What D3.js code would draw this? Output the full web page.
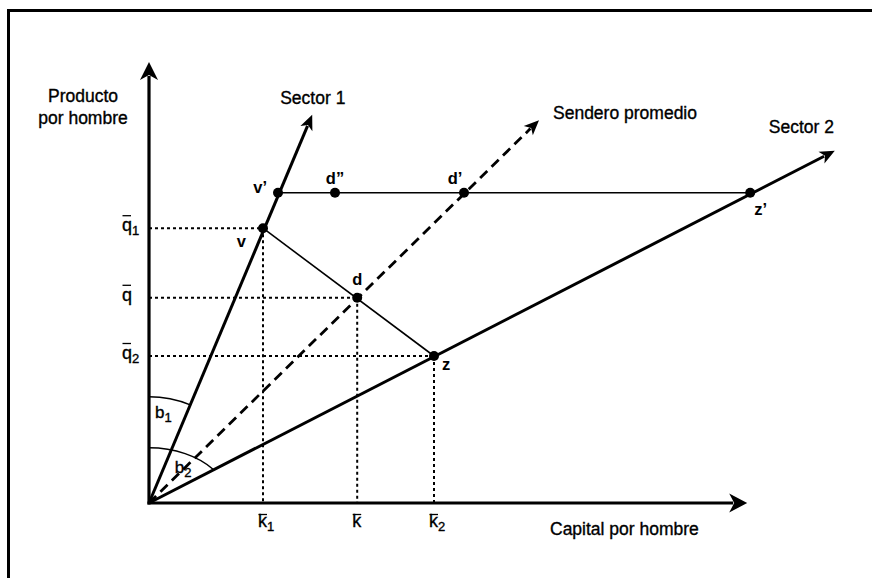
<!DOCTYPE html>
<html><head><meta charset="utf-8">
<script src="https://cdn.jsdelivr.net/npm/d3@7"></script>
<style>html,body{margin:0;padding:0;background:#fff}svg{display:block}</style>
</head><body>
<script>
// ---- data (k = capital por hombre, q = producto por hombre) ----
const pointNames = ["v’", "v", "d”", "d’", "d", "z", "z’"];
const pointK = [2.15, 1.90, 3.10, 5.25, 3.47, 4.75, 10.02];
const pointQ = [5.17, 4.58, 5.17, 5.17, 3.42, 2.45, 5.17];
const rayNames = ["Sector 1", "Sendero promedio", "Sector 2"];
const rayTipK = [2.72, 6.50, 11.43];
const rayTipQ = [6.47, 6.38, 5.87];
const rayDashed = [false, true, false];
const qGuideValues = [4.58, 3.42, 2.45];
const qGuideSubs = ["1", "", "2"];
const kGuideValues = [1.90, 3.47, 4.75];
const kGuideSubs = ["1", "", "2"];
const axisMaxK = 9.97, axisMaxQ = 7.35;
const angleSubs = ["1", "2"];
const angleRadiusK = [1.80, 1.35];   // horizontal radius of angle arcs
const angleRadiusQ = [1.77, 0.92];   // vertical radius of angle arcs
const angleRay = [0, 2];
const axisTitleY = ["Producto", "por hombre"];
const axisTitleX = "Capital por hombre";

// ---- layout ----
const W = 872, H = 578;
const x = d3.scaleLinear().domain([0, 10]).range([149, 749]);
const y = d3.scaleLinear().domain([0, 10]).range([503, -97]);
const FONT = "'Liberation Sans', Arial, Helvetica, sans-serif";

const svg = d3.select("body").append("svg").attr("width", W).attr("height", H);

// frame (top & left edges visible)
svg.append("path").attr("d", `M8.5,${H} L8.5,10.5 L${W},10.5`)
  .attr("fill", "none").attr("stroke", "#000").attr("stroke-width", 3);

function arrowHead(g, x0, y0, x1, y1, L, Wd, N) {
  const dx = x1 - x0, dy = y1 - y0, len = Math.hypot(dx, dy);
  const ux = dx / len, uy = dy / len, nx = -uy, ny = ux;
  const pts = [
    [x1, y1],
    [x1 - L * ux + Wd / 2 * nx, y1 - L * uy + Wd / 2 * ny],
    [x1 - (L - N) * ux, y1 - (L - N) * uy],
    [x1 - L * ux - Wd / 2 * nx, y1 - L * uy - Wd / 2 * ny]
  ];
  g.append("path").attr("d", "M" + pts.map(p => p.join(",")).join("L") + "Z").attr("fill", "#000");
  return [x1 - (L - N + 1) * ux, y1 - (L - N + 1) * uy];
}

const g = svg.append("g");
const ox = x(0), oy = y(0);

// dotted guides
qGuideValues.forEach((q, i) => {
  const idx = pointQ.findIndex((v, j) => v === q && [1, 4, 5].includes(j));
  g.append("line").attr("x1", ox).attr("x2", x(pointK[idx])).attr("y1", y(q)).attr("y2", y(q))
    .attr("stroke", "#000").attr("stroke-width", 2).attr("stroke-dasharray", "3,3");
});
kGuideValues.forEach((k, i) => {
  const idx = pointK.findIndex((v, j) => v === k && [1, 4, 5].includes(j));
  g.append("line").attr("x1", x(k)).attr("x2", x(k)).attr("y1", y(pointQ[idx])).attr("y2", oy)
    .attr("stroke", "#000").attr("stroke-width", 2).attr("stroke-dasharray", "3,3");
});

// thin lines v–z and v'–z'
g.append("line").attr("x1", x(pointK[1])).attr("y1", y(pointQ[1])).attr("x2", x(pointK[5])).attr("y2", y(pointQ[5]))
  .attr("stroke", "#000").attr("stroke-width", 1.6);
g.append("line").attr("x1", x(pointK[0])).attr("y1", y(pointQ[0])).attr("x2", x(pointK[6])).attr("y2", y(pointQ[6]))
  .attr("stroke", "#000").attr("stroke-width", 1.6);

// angle arcs (elliptical, centred at origin)
angleSubs.forEach((s, i) => {
  const rx = x(angleRadiusK[i]) - ox, ry = oy - y(angleRadiusQ[i]);
  const r = angleRay[i];
  const dx = x(rayTipK[r]) - ox, dy = y(rayTipQ[r]) - oy;
  const t = 1 / Math.sqrt((dx / rx) ** 2 + (dy / ry) ** 2);
  const ex = ox + t * dx, ey = oy + t * dy;
  g.append("path").attr("d", `M${ox},${oy - ry} A${rx},${ry} 0 0 1 ${ex},${ey}`)
    .attr("fill", "none").attr("stroke", "#000").attr("stroke-width", 1.5);
});

// rays
rayNames.forEach((n, i) => {
  const tx = x(rayTipK[i]), ty = y(rayTipQ[i]);
  const end = arrowHead(g, ox, oy, tx, ty, 15, 13, 4);
  g.append("line").attr("x1", ox).attr("y1", oy).attr("x2", end[0]).attr("y2", end[1])
    .attr("stroke", "#000").attr("stroke-width", rayDashed[i] ? 2.8 : 3)
    .attr("stroke-dasharray", rayDashed[i] ? "10,6" : null);
});

// axes
{
  const ex = arrowHead(g, ox, oy, x(axisMaxK), oy, 18, 19, 5);
  g.append("line").attr("x1", ox - 1.5).attr("y1", oy).attr("x2", ex[0]).attr("y2", oy)
    .attr("stroke", "#000").attr("stroke-width", 3.2);
  const ey = arrowHead(g, ox, oy, ox, y(axisMaxQ), 18, 18, 5);
  g.append("line").attr("x1", ox).attr("y1", oy + 1.5).attr("x2", ox).attr("y2", ey[1])
    .attr("stroke", "#000").attr("stroke-width", 3.2);
}

// points
pointNames.forEach((n, i) => {
  g.append("circle").attr("cx", x(pointK[i])).attr("cy", y(pointQ[i])).attr("r", 5).attr("fill", "#000");
});

// point labels
const pLab = [
  {dx: -11, dy: 0, a: "end"}, {dx: -17, dy: 19, a: "end"}, {dx: 0, dy: -9, a: "middle"},
  {dx: -9, dy: -9, a: "middle"}, {dx: 0, dy: -13, a: "middle"}, {dx: 8, dy: 14, a: "start"},
  {dx: 4, dy: 22, a: "start"}
];
pointNames.forEach((n, i) => {
  g.append("text").attr("x", x(pointK[i]) + pLab[i].dx).attr("y", y(pointQ[i]) + pLab[i].dy)
    .attr("text-anchor", pLab[i].a).attr("font-family", FONT).attr("font-weight", "bold")
    .attr("font-size", 16.5).text(n);
});

// regular text gets a hairline stroke to mimic the heavier print
const heavy = sel => sel.attr("stroke", "#000").attr("stroke-width", 0.35);

// ray labels
const rLab = [{dx: -32, dy: -11}, {dx: 14, dy: -1}, {dx: -66, dy: -18}];
rayNames.forEach((n, i) => {
  g.append("text").attr("x", x(rayTipK[i]) + rLab[i].dx).attr("y", y(rayTipQ[i]) + rLab[i].dy)
    .attr("font-family", FONT).attr("font-size", 17.5).call(heavy).text(n);
});

// math labels with bar
function barLabel(px, py, letter, sub, barDy) {
  const t = g.append("text").attr("x", px).attr("y", py).attr("font-family", FONT).attr("font-size", 18).call(heavy);
  t.append("tspan").text(letter);
  if (sub) t.append("tspan").attr("font-size", 13).attr("dy", 4).text(sub);
  g.append("line").attr("x1", px + 0.5).attr("x2", px + 9).attr("y1", py + barDy).attr("y2", py + barDy)
    .attr("stroke", "#000").attr("stroke-width", 1.3);
}
qGuideValues.forEach((q, i) => barLabel(122, y(q) + 3, "q", qGuideSubs[i], -15.5));
kGuideValues.forEach((k, i) => barLabel(x(k) - 5, oy + 23.5, "k", kGuideSubs[i], -12));

// angle labels
const bPos = [[0.10, 1.42], [0.43, 0.50]];
angleSubs.forEach((s, i) => {
  const t = g.append("text").attr("x", x(bPos[i][0])).attr("y", y(bPos[i][1]))
    .attr("font-family", FONT).attr("font-size", 17).call(heavy);
  t.append("tspan").text("b");
  t.append("tspan").attr("font-size", 13).attr("dy", 4).text(s);
});

// axis titles
axisTitleY.forEach((s, i) => {
  g.append("text").attr("x", 83).attr("y", 102 + i * 22).attr("text-anchor", "middle")
    .attr("font-family", FONT).attr("font-size", 17.5).call(heavy).text(s);
});
g.append("text").attr("x", 550).attr("y", 535).attr("font-family", FONT).attr("font-size", 17.5).call(heavy).text(axisTitleX);
</script>
</body></html>
